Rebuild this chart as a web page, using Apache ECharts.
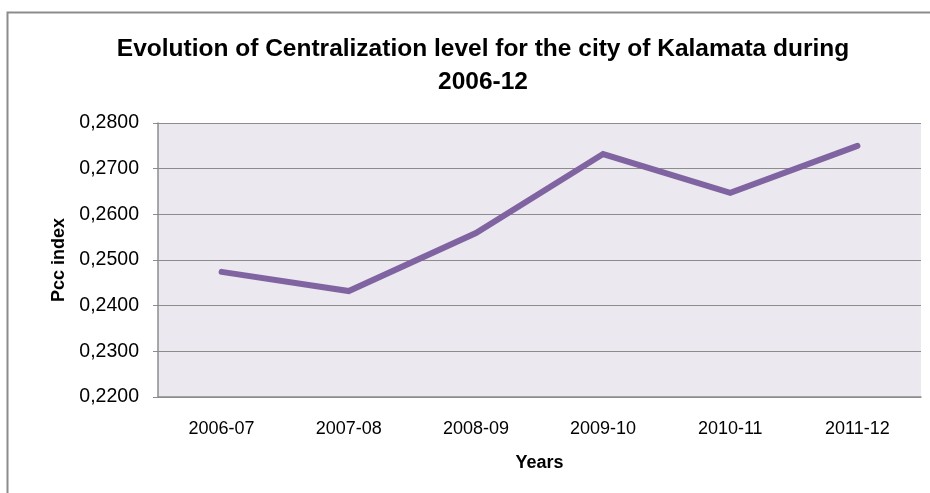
<!DOCTYPE html>
<html>
<head>
<meta charset="utf-8">
<script src="https://cdn.jsdelivr.net/npm/echarts@6/dist/echarts.min.js"></script>
<style>
  html, body { margin: 0; padding: 0; background: #fff; }
  #chart { width: 930px; height: 493px; }
</style>
</head>
<body>
<div id="chart"></div>
<script>
// values
const years = ['2006-07', '2007-08', '2008-09', '2009-10', '2010-11', '2011-12']
const pccIndex = [0.2474, 0.2432, 0.2559, 0.2732, 0.2647, 0.2750]

const font = '"Liberation Sans", sans-serif'

const chart = echarts.init(document.getElementById('chart'), null, { renderer: 'canvas' })

chart.setOption({
  animation: false,
  textStyle: { fontFamily: font },
  graphic: [{
    type: 'rect',
    shape: { x: 7.5, y: 12.5, width: 940, height: 500 },
    style: { fill: 'none', stroke: '#8c8c8c', lineWidth: 2 },
    silent: true
  }],
  title: {
    text: 'Evolution of Centralization level for the city of Kalamata during\n2006-12',
    left: 478,
    top: 28,
    textAlign: 'center',
    textStyle: {
      fontFamily: font,
      fontSize: 24.5,
      fontWeight: 'bold',
      color: '#000',
      lineHeight: 33
    }
  },
  grid: {
    left: 158,
    right: 9,
    top: 123,
    bottom: 96,
    show: true,
    backgroundColor: '#ebe8ef',
    borderWidth: 0
  },
  xAxis: {
    type: 'category',
    data: years,
    boundaryGap: true,
    name: 'Years',
    nameLocation: 'middle',
    nameGap: 57,
    nameTextStyle: { fontSize: 18, fontWeight: 'bold', color: '#000', fontFamily: font },
    axisLine: { lineStyle: { color: '#8c8c8c', width: 1.5 } },
    axisTick: { show: false },
    axisLabel: { fontSize: 18, color: '#000', margin: 23, fontFamily: font }
  },
  yAxis: {
    type: 'value',
    min: 0.22,
    max: 0.28,
    interval: 0.01,
    name: 'Pcc index',
    nameLocation: 'middle',
    nameGap: 90,
    nameTextStyle: { fontSize: 18, fontWeight: 'bold', color: '#000', fontFamily: font },
    axisLine: { show: true, lineStyle: { color: '#8c8c8c', width: 1.5 } },
    axisTick: { show: true, length: 5, lineStyle: { color: '#8c8c8c' } },
    splitLine: { lineStyle: { color: '#8c8c8c', width: 1.2 } },
    axisLabel: {
      fontSize: 19.5,
      color: '#000',
      margin: 19,
      fontFamily: font,
      formatter: v => v.toFixed(4).replace('.', ',')
    }
  },
  series: [{
    type: 'line',
    data: pccIndex,
    symbol: 'none',
    lineStyle: { color: '#8064a2', width: 6, cap: 'round', join: 'miter' }
  }]
})
</script>
</body>
</html>
